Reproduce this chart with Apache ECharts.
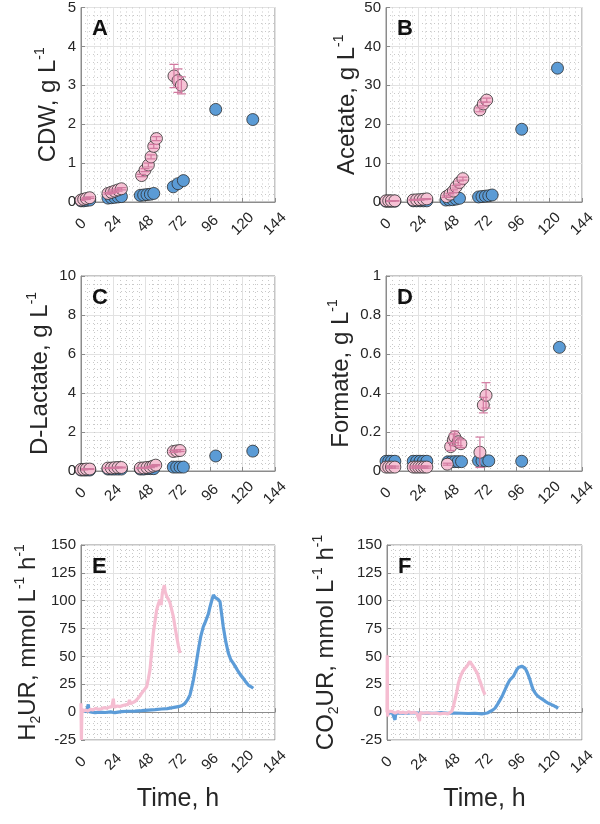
<!DOCTYPE html>
<html>
<head>
<meta charset="utf-8">
<script src="https://cdn.jsdelivr.net/npm/echarts@6/dist/echarts.min.js"></script>
<style>
html, body { margin: 0; padding: 0; background: #fff; }
#chart { width: 600px; height: 824px; }
</style>
</head>
<body>
<div id="chart"></div>
<script>
// 时间轴刻度 (h)
const timeTicks = [0, 24, 48, 72, 96, 120, 144]

// A: CDW, g/L  —  [t, value] / pink: [t, value, sd]
const cdwBlue = [[0,0.03],[2,0.03],[4,0.04],[6.5,0.05],[20,0.1],[22.5,0.11],[25,0.12],[27.5,0.13],[30,0.14],
  [44,0.17],[46.5,0.18],[49,0.19],[51.5,0.2],[54,0.22],[68.5,0.39],[72,0.47],[76,0.55],[100,2.38],[127.5,2.12]]
const cdwPink = [[0,0.05,0.01],[2,0.07,0.01],[4,0.09,0.02],[6.5,0.11,0.02],[20,0.22,0.02],[22.5,0.25,0.03],
  [25,0.28,0.03],[27.5,0.31,0.03],[30,0.34,0.03],[45,0.68,0.03],[47.5,0.82,0.04],[50,0.95,0.05],[52,1.16,0.05],
  [54,1.43,0.05],[56,1.63,0.05],[69,3.24,0.3],[72,3.12,0.3],[74.5,3.0,0.22]]

// B: Acetate, g/L
const acetateBlue = [[0,0.2],[2,0.2],[4,0.2],[6.5,0.2],[20,0.3],[22.5,0.3],[25,0.3],[27.5,0.3],[30,0.3],
  [44,0.5],[46.5,0.55],[49,0.6],[51.5,0.75],[54,0.95],[68,1.3],[70.5,1.4],[73,1.5],[75.5,1.6],[78,1.8],[99.7,18.7],[126,34.4]]
const acetatePink = [[0,0.3,0.05],[2,0.3,0.05],[4,0.3,0.05],[6.5,0.3,0.05],[20,0.5,0.1],[22.5,0.55,0.1],
  [25,0.6,0.1],[27.5,0.7,0.1],[30,0.8,0.1],[44.5,1.4,0.2],[47,2.0,0.2],[49.5,2.8,0.3],[51.5,3.9,0.3],
  [54,5.0,0.4],[56.5,6.0,0.4],[69,23.7,0.5],[71.5,25.2,0.5],[74,26.2,0.5]]

// C: D-Lactate, g/L
const lactateBlue = [[0,0.05],[2,0.05],[4,0.05],[6.5,0.05],[20,0.1],[22.5,0.1],[25,0.1],[27.5,0.1],[30,0.1],
  [44,0.1],[46.5,0.1],[49,0.12],[51.5,0.12],[54,0.12],[68.5,0.2],[71,0.2],[73.5,0.2],[76,0.2],[100,0.77],[127.5,1.02]]
const lactatePink = [[0,0.08,0.02],[2,0.08,0.02],[4,0.1,0.02],[6.5,0.1,0.02],[20,0.15,0.02],[22.5,0.15,0.02],
  [25,0.17,0.02],[27.5,0.18,0.02],[30,0.18,0.02],[44,0.15,0.02],[46.5,0.16,0.02],[49,0.18,0.02],[51.5,0.2,0.03],
  [53.5,0.25,0.03],[55.5,0.3,0.03],[68.5,1.0,0.05],[71,1.03,0.05],[73.5,1.05,0.05]]

// D: Formate, g/L
const formateBlue = [[0,0.05],[2,0.05],[4,0.05],[6.5,0.05],[20,0.05],[22.5,0.05],[25,0.05],[27.5,0.05],[30,0.05],
  [45.5,0.047],[48,0.047],[50.5,0.048],[53,0.048],[55.5,0.048],[68,0.052],[70.5,0.052],[73,0.052],[75.5,0.052],
  [99.7,0.05],[127.4,0.634]]
const formatePink = [[0,0.02,0.005],[2,0.02,0.005],[4,0.02,0.005],[6.5,0.02,0.005],[20,0.02,0.005],[22,0.02,0.005],
  [24,0.02,0.005],[26,0.02,0.005],[28,0.02,0.005],[30,0.02,0.005],[45,0.035,0.005],[47.5,0.125,0.02],
  [49.5,0.16,0.03],[50.5,0.175,0.03],[53,0.15,0.02],[55,0.14,0.02],[69,0.096,0.078],[71.5,0.338,0.04],[73.5,0.388,0.065]]

// E: H2 uptake rate, mmol/L/h
const h2Pink = [[0,8],[0.3,-25],[0.7,3],[1.5,0.5],[3,2],[5,1],[7,2.5],[9,2],[11,3.5],[13,2.5],[15,3],[17,4],
  [19,3.5],[21,4.5],[23,5],[24,12],[24.6,4.5],[27,5.5],[29,5],[31,6],[33,6.5],[35,7],[36,11],[36.6,7.5],[38,8.5],
  [40,9.5],[42,12],[44,15],[45,17],[47,20],[48.8,23],[50,30],[51.2,38],[52.5,55],[53.7,71],[55,82],[56.2,92],
  [57.4,97],[58.6,101],[59.5,96],[60.4,107],[61,110],[61.9,114],[62.5,108],[63.6,104],[65,101],[66.1,98],
  [67.3,92],[68.5,86],[69.7,77],[71,68],[72.2,60],[73.5,53]]
const h2Blue = [[0,0.5],[2,1],[4,0.5],[5.4,7],[6,0.5],[8,0],[10.4,-0.5],[14,0],[18,-0.3],[22,0.2],[25.2,-0.5],
  [30,0.5],[35,0.8],[40,1],[45,1.3],[50,1.8],[55,2.2],[59.9,2.8],[64,3.2],[68,4],[72.2,4.9],[75,6],[77.2,7.9],
  [79,11],[80.9,15.4],[82,21],[83.4,28.8],[85.3,42],[87.1,55.7],[88.9,68],[90.8,76.7],[92,80],[93.3,84.2],
  [94.5,88],[95.8,94.6],[97,100],[98.3,105.1],[99.5,103],[100.7,103],[102,101],[103.2,99.1],[104.4,88],
  [105.6,76.7],[107.5,63],[109.4,52.8],[111.2,47],[113.1,43.8],[115,40],[116.8,36.3],[118.6,33],[120.5,30.3],
  [122.4,27],[124.2,24.3],[126,23],[127.9,21.4]]

// F: CO2 uptake rate, mmol/L/h
const co2Pink = [[0,0],[0.2,51],[0.4,-4],[0.8,1],[2,-0.5],[4,0.5],[6,-1],[8,0.5],[10,-0.5],[12,0],[14,-1],
  [16,0.5],[18,-0.8],[20,0],[22,-1],[24,-8],[24.6,-0.5],[27,-1],[30,-0.5],[33,-1.2],[36,-0.8],[39,-1.5],[42,-1],
  [45,-1.5],[47.8,0.6],[49,5],[50.2,11],[51.5,18],[52.7,26],[54.3,32],[55.9,36.5],[57.4,39],[58.8,41],[60,43],
  [61.3,45.5],[62.5,43],[63.7,41],[65.2,38],[66.7,35],[68,30],[69.2,26],[70.8,20],[72.4,15.6]]
const co2Blue = [[0.2,-2.4],[2,-0.5],[4,-1],[5.9,-6.9],[6.5,-1],[10,-0.8],[15,-1],[20,-0.5],[25,-1],[30,-0.8],
  [35,-1],[40,-0.5],[45,-1],[50,-0.8],[55,-1],[60,-1.2],[65,-1],[70,-1.5],[74,-0.8],[76.1,0.6],[78,1.8],
  [79.8,3.6],[81.6,7],[83.5,11],[85.3,15],[87.1,20],[89,25],[90.8,29],[92,30.5],[93.3,32],[94.5,35],[95.8,38],
  [97,40],[98.2,41],[99.5,41.2],[100.7,41],[102,39.5],[103.2,36.5],[104.4,33],[105.6,29],[106.8,24],[108,20],
  [109.8,16.5],[111.7,14],[113.5,12.5],[115.4,11],[117.2,9.5],[119.1,8],[121,7],[122.8,6],[124.6,4.8],[126.5,3.6]]

// 颜色
const pinkFill = '#f6c2d5'
const blueFill = '#5b9bd5'
const pinkLine = '#f5bdd1'
const blueLine = '#5c9cd8'
const errColor = '#d27aa0'
const edgeColor = '#2d2d2d'
const axisColor = '#8c8c8c'
const textColor = '#262626'
const font = 'Liberation Sans, Arial, Helvetica, sans-serif'

// 面板布局
const panels = [
  { grid: { left: 81, top: 7, width: 194, height: 195 }, y: [0, 5, 1], name: '{n|CDW, g L}{sup|-1}', gap: 18, letter: 'A' },
  { grid: { left: 386, top: 7, width: 196, height: 195 }, y: [0, 50, 10], name: '{n|Acetate, g L}{sup|-1}', gap: 24, letter: 'B' },
  { grid: { left: 81, top: 276, width: 194, height: 195 }, y: [0, 10, 2], name: '{n|D-Lactate, g L}{sup|-1}', gap: 26, letter: 'C' },
  { grid: { left: 386, top: 276, width: 196, height: 195 }, y: [0, 1, 0.2], name: '{n|Formate, g L}{sup|-1}', gap: 30, letter: 'D' },
  { grid: { left: 81, top: 545, width: 194, height: 195 }, y: [-25, 150, 25], name: '{n|H}{sub|2}{n|UR, mmol L}{sup|-1}{n| h}{sup|-1}', gap: 38, letter: 'E' },
  { grid: { left: 387, top: 545, width: 195, height: 195 }, y: [-25, 150, 25], name: '{n|CO}{sub|2}{n|UR, mmol L}{sup|-1}{n| h}{sup|-1}', gap: 46, letter: 'F' }
]

const nameRich = {
  n: { fontSize: 24, lineHeight: 30, color: textColor, fontFamily: font },
  sup: { fontSize: 14, lineHeight: 14, verticalAlign: 'top', color: textColor, fontFamily: font },
  sub: { fontSize: 14, lineHeight: 14, verticalAlign: 'bottom', color: textColor, fontFamily: font }
}

const majorGrid = { show: true, lineStyle: { color: '#e2e2e2', width: 1 } }
const minorGrid = { show: true, lineStyle: { color: '#c9c9c9', width: 1, type: [1, 3] } }

// 误差棒
const errorBarItem = (params, api) => {
  const x = api.value(0)
  const y = api.value(1)
  const e = api.value(2)
  const top = api.coord([x, y + e])
  const bot = api.coord([x, y - e])
  const w = 4.5
  const style = { stroke: errColor, lineWidth: 1.2 }
  return {
    type: 'group',
    children: [
      { type: 'line', shape: { x1: top[0], y1: top[1], x2: bot[0], y2: bot[1] }, style },
      { type: 'line', shape: { x1: top[0] - w, y1: top[1], x2: top[0] + w, y2: top[1] }, style },
      { type: 'line', shape: { x1: bot[0] - w, y1: bot[1], x2: bot[0] + w, y2: bot[1] }, style }
    ]
  }
}

const scatterSeries = (idx, data, color) => ({
  type: 'scatter',
  xAxisIndex: idx,
  yAxisIndex: idx,
  data: data.map(d => [d[0], d[1]]),
  symbolSize: 12,
  clip: false,
  itemStyle: { color, borderColor: edgeColor, borderWidth: 0.8, opacity: 1 },
  emphasis: { disabled: true }
})

const errorSeries = (idx, data) => ({
  type: 'custom',
  xAxisIndex: idx,
  yAxisIndex: idx,
  data,
  renderItem: errorBarItem,
  clip: true,
  z: 3
})

const lineSeries = (idx, data, color) => ({
  type: 'line',
  xAxisIndex: idx,
  yAxisIndex: idx,
  data,
  showSymbol: false,
  symbol: 'none',
  lineStyle: { color, width: 3.2 },
  clip: true
})

const chart = echarts.init(document.getElementById('chart'))

const option = {
  animation: false,
  backgroundColor: '#fff',
  grid: panels.map(p => ({ ...p.grid, show: true, borderColor: axisColor, borderWidth: 1, backgroundColor: '#fff' })),
  xAxis: panels.map((p, i) => ({
    type: 'value',
    gridIndex: i,
    min: timeTicks[0],
    max: timeTicks[timeTicks.length - 1],
    interval: timeTicks[1] - timeTicks[0],
    name: i >= 4 ? 'Time, h' : '',
    nameLocation: 'middle',
    nameGap: 47,
    nameTextStyle: { fontSize: 25, color: textColor, fontFamily: font },
    axisLine: { lineStyle: { color: axisColor } },
    axisTick: { show: true, inside: true, length: 4, lineStyle: { color: axisColor } },
    minorTick: { show: false, splitNumber: 5 },
    axisLabel: { rotate: 45, align: 'center', verticalAlign: 'middle', margin: 22, fontSize: 15, color: textColor, fontFamily: font },
    splitLine: majorGrid,
    minorSplitLine: minorGrid
  })),
  yAxis: panels.map((p, i) => ({
    type: 'value',
    gridIndex: i,
    min: p.y[0],
    max: p.y[1],
    interval: p.y[2],
    name: p.name,
    nameLocation: 'middle',
    nameRotate: 90,
    nameGap: p.gap,
    nameTextStyle: { rich: nameRich },
    axisLine: { lineStyle: { color: axisColor } },
    axisTick: { show: true, inside: true, length: 4, lineStyle: { color: axisColor } },
    minorTick: { show: false, splitNumber: 5 },
    axisLabel: { margin: 5, fontSize: 15, color: textColor, fontFamily: font },
    splitLine: majorGrid,
    minorSplitLine: minorGrid
  })),
  graphic: panels.map(p => ({
    type: 'text',
    left: p.grid.left + 11,
    top: p.grid.top + 11,
    z: 100,
    style: { text: p.letter, font: 'bold 22px ' + font, fill: '#111' }
  })),
  series: [
    scatterSeries(0, cdwBlue, blueFill),
    scatterSeries(0, cdwPink, pinkFill),
    errorSeries(0, cdwPink),
    scatterSeries(1, acetateBlue, blueFill),
    scatterSeries(1, acetatePink, pinkFill),
    errorSeries(1, acetatePink),
    scatterSeries(2, lactateBlue, blueFill),
    scatterSeries(2, lactatePink, pinkFill),
    errorSeries(2, lactatePink),
    scatterSeries(3, formateBlue, blueFill),
    scatterSeries(3, formatePink, pinkFill),
    errorSeries(3, formatePink),
    lineSeries(4, h2Blue, blueLine),
    lineSeries(4, h2Pink, pinkLine),
    lineSeries(5, co2Blue, blueLine),
    lineSeries(5, co2Pink, pinkLine)
  ]
}

chart.setOption(option)
</script>
</body>
</html>
